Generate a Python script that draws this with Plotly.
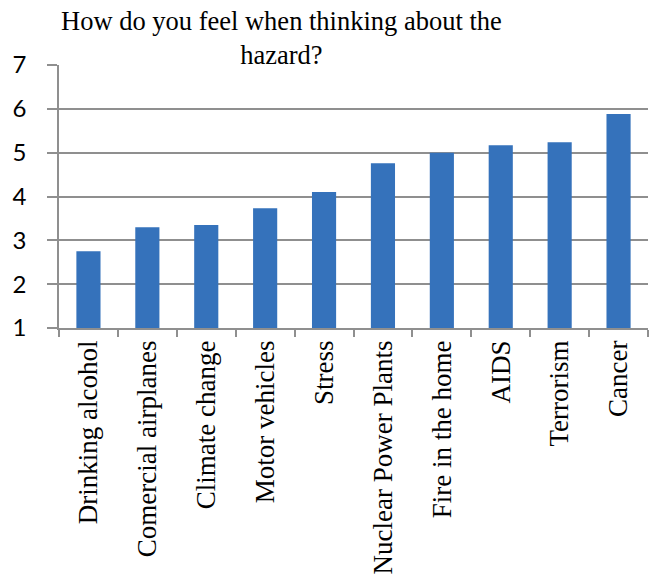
import plotly.graph_objects as go

categories = ["Drinking alcohol", "Comercial airplanes", "Climate change", "Motor vehicles",
              "Stress", "Nuclear Power Plants", "Fire in the home", "AIDS", "Terrorism", "Cancer"]
values = [2.75, 3.30, 3.35, 3.73, 4.10, 4.76, 5.0, 5.17, 5.24, 5.88]
y_ticks = [1, 2, 3, 4, 5, 6, 7]
axis_min = 1

fig = go.Figure()
fig.add_trace(go.Bar(
    x=categories,
    y=[v - axis_min for v in values],
    base=[axis_min] * len(values),
    marker=dict(color="#3572bb", line=dict(width=0)),
    hovertext=[str(v) for v in values],
))

grid = "#8f8f8f"
L, R, T, B = 59, 6, 65, 247
plot_h = 575 - T - B
plot_w = 654 - L - R

fig.add_annotation(
    text="How do you feel when thinking about the<br>hazard?",
    xref="paper", yref="paper",
    x=(281 - L) / plot_w, xanchor="center",
    y=1 + (T - 4) / plot_h, yanchor="top",
    showarrow=False,
    font=dict(family="Liberation Serif", size=26.5, color="black"),
)

fig.update_layout(
    width=654, height=575,
    margin=dict(l=L, r=R, t=T, b=B),
    paper_bgcolor="white", plot_bgcolor="white",
    bargap=0.59,
    showlegend=False,
    xaxis=dict(
        automargin=False,
        tickangle=-90,
        tickfont=dict(family="Liberation Serif", size=27, color="black"),
        showline=True, linecolor=grid, linewidth=1.5,
        ticks="outside", ticklen=7, tickcolor=grid, tickwidth=1.5,
        tickson="boundaries",
        showgrid=False,
    ),
    yaxis=dict(
        automargin=False,
        range=[1, 7], tickvals=y_ticks,
        tickfont=dict(family="Lato", size=24, color="black"),
        ticklabelstandoff=16,
        showline=True, linecolor=grid, linewidth=1.5,
        ticks="outside", ticklen=10, tickcolor=grid, tickwidth=1.5,
        showgrid=True, gridcolor=grid, gridwidth=1.5,
        zeroline=False,
    ),
)

fig.write_html("out.html", config={"displayModeBar": False},
               post_script="document.body.style.margin='0';")
